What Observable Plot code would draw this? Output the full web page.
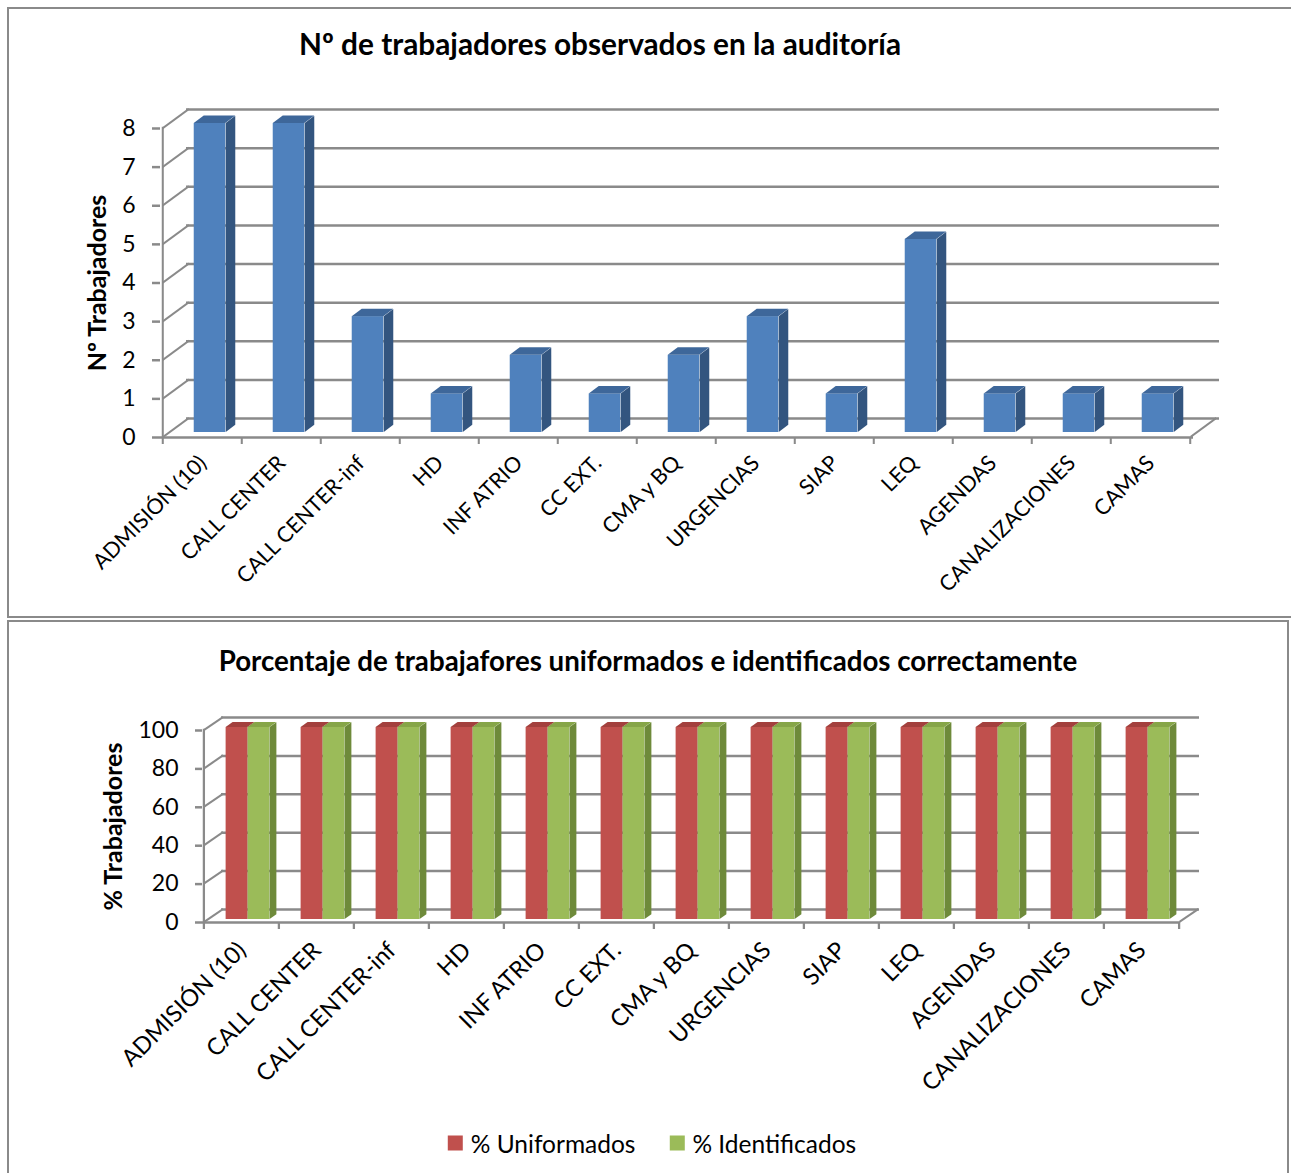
<!DOCTYPE html>
<html lang="es">
<head>
<meta charset="utf-8">
<script src="https://cdn.jsdelivr.net/npm/d3@7"></script>
<script src="https://cdn.jsdelivr.net/npm/@observablehq/plot@0.6"></script>
<style>
html,body{margin:0;padding:0;background:#fff;}
#page{position:relative;width:1291px;height:1173px;overflow:hidden;font-family:Lato,"Open Sans",sans-serif;color:#000;}
.box{position:absolute;border:2.5px solid #8a8a8a;box-sizing:border-box;}
.title{position:absolute;font-weight:700;white-space:nowrap;transform:translate(-50%,-50%);}
.chart{position:absolute;left:0;}
#legend{position:absolute;left:652px;top:1143px;transform:translate(-50%,-50%);white-space:nowrap;}
#legend *{font-family:Lato,"Open Sans",sans-serif !important;font-size:24.5px !important;color:#000 !important;}
#legend > div{margin:0 !important;}
#legend span{margin-right:34px !important;}
#legend span:last-child{margin-right:0 !important;}
#legend svg{margin-right:8px !important;}
</style>
</head>
<body>
<div id="page">
  <div class="box" style="left:7px;top:7px;width:1300px;height:611px;"></div>
  <div class="box" style="left:7px;top:620px;width:1282px;height:600px;"></div>
  <div class="title" id="t1" style="left:600px;top:43px;font-size:29.8px;"></div>
  <div class="title" id="t2" style="left:648px;top:660px;font-size:27.7px;"></div>
  <div class="chart" id="c1" style="top:0px;"></div>
  <div class="chart" id="c2" style="top:621px;"></div>
  <div id="legend"></div>
</div>
<script>
// ---------- data ----------
const categories = ["ADMISIÓN (10)", "CALL CENTER", "CALL CENTER-inf", "HD", "INF ATRIO", "CC EXT.", "CMA y BQ", "URGENCIAS", "SIAP", "LEQ", "AGENDAS", "CANALIZACIONES", "CAMAS"];
const trabajadores = [8, 8, 3, 1, 2, 1, 2, 3, 1, 5, 1, 1, 1];
const uniformados = [100, 100, 100, 100, 100, 100, 100, 100, 100, 100, 100, 100, 100];
const identificados = [100, 100, 100, 100, 100, 100, 100, 100, 100, 100, 100, 100, 100];
const ticksTrab = [0, 1, 2, 3, 4, 5, 6, 7, 8];
const ticksPct = [0, 20, 40, 60, 80, 100];
const seriesNames = ["% Uniformados", "% Identificados"];
const title1 = "Nº de trabajadores observados en la auditoría";
const title2 = "Porcentaje de trabajafores uniformados e identificados correctamente";
const yLabel1 = "Nº Trabajadores";
const yLabel2 = "% Trabajadores";

// ---------- styles ----------
const GRID = "#8a8a8a";
const BLUE = {front: "#4F81BD", side: "#33557F", top: "#3E679A"};
const RED = {front: "#C0504D", side: "#8C3A38", top: "#A3403D"};
const GREEN = {front: "#9BBB59", side: "#6E8A3A", top: "#86A548"};

document.getElementById("t1").textContent = title1;
document.getElementById("t2").textContent = title2;

const deg = (t) => Math.atan(t) * 180 / Math.PI;

function build(cfg) {
  const n = categories.length;
  const step = (cfg.W - cfg.ML - cfg.MR) / n;
  const [y0, yTop] = cfg.yDomain;
  const [WX, WY] = cfg.wall;
  const [PX, PY] = cfg.plane;
  const [DX, DY] = cfg.depth;
  const lw = 2.5, h = lw / 2;
  const groupW = cfg.barW * cfg.series.length;
  const marks = [
    // back wall gridlines
    Plot.ruleY(cfg.yTicks, {dx: WX, dy: WY, stroke: GRID, strokeWidth: lw}),
    // left wall diagonals (skewed afterwards)
    Plot.barY(cfg.yTicks, {x: () => categories[0], y1: d => d, y2: d => d, insetTop: -h, insetBottom: -h, insetLeft: 0, insetRight: step - WX, fill: GRID, ariaDescription: "wall-diag"}),
    // floor right edge
    Plot.barY([y0], {x: () => categories[n - 1], y1: d => d, y2: d => d, insetTop: -h, insetBottom: -h, insetLeft: step, insetRight: -WX, fill: GRID, ariaDescription: "wall-diag"}),
    // front vertical axis line
    Plot.barY([yTop], {x: () => categories[0], y1: () => y0, y2: d => d, insetTop: -h, insetBottom: -h, insetLeft: -h, insetRight: step - h, fill: GRID}),
    // category boundary ticks
    Plot.barY(categories, {x: d => d, y1: () => y0, y2: () => y0, insetTop: 0, insetBottom: -cfg.tick, insetLeft: -h, insetRight: step - h, fill: GRID}),
    Plot.barY([categories[n - 1]], {x: d => d, y1: () => y0, y2: () => y0, insetTop: 0, insetBottom: -cfg.tick, insetLeft: step - h, insetRight: -h, fill: GRID})
  ];
  cfg.series.forEach((s, k) => {
    const rows = categories.map((c, i) => ({c, v: s.values[i]}));
    const L = (step - groupW) / 2 + k * cfg.barW;
    const R = step - L - cfg.barW;
    const common = {x: "c", dx: PX, dy: PY};
    marks.push(
      Plot.barY(rows, {...common, y: "v", insetLeft: L, insetRight: R, fill: s.colors.front}),
      Plot.barY(rows, {...common, y: "v", insetLeft: L + cfg.barW, insetRight: R - DX, fill: s.colors.side, ariaDescription: "bar-side"}),
      Plot.barY(rows, {...common, y1: "v", y2: "v", insetTop: DY, insetBottom: 0, insetLeft: L, insetRight: R, fill: s.colors.top, ariaDescription: "bar-top"})
    );
  });
  marks.push(
    Plot.ruleY([y0], {stroke: GRID, strokeWidth: lw}),
    Plot.axisY(cfg.yTicks, {tickSize: cfg.yTickSize, tickPadding: cfg.yPad, stroke: GRID, strokeWidth: lw, fill: "#000", fontSize: cfg.yFont, label: cfg.yLabel, labelAnchor: "center", labelOffset: cfg.labelOffset, labelArrow: "none"}),
    Plot.axisX({tickSize: 0, tickRotate: -45, tickPadding: cfg.xPad, fontSize: cfg.xFont, fill: "#000", label: null})
  );
  const svg = Plot.plot({
    width: cfg.W, height: cfg.H,
    marginLeft: cfg.ML, marginRight: cfg.MR, marginTop: cfg.MT, marginBottom: cfg.MB,
    x: {type: "band", domain: categories, padding: 0},
    y: {domain: cfg.yDomain, nice: false},
    style: {background: "transparent", overflow: "visible", fontFamily: "Lato, 'Open Sans', sans-serif", color: "#000"},
    marks
  });
  const sel = d3.select(svg);
  sel.selectAll('g[aria-description="bar-side"] rect')
    .style("transform-box", "fill-box").style("transform-origin", "0 0")
    .style("transform", `skewY(${deg(DY / DX)}deg)`);
  sel.selectAll('g[aria-description="bar-top"] rect')
    .style("transform-box", "fill-box").style("transform-origin", "0 100%")
    .style("transform", `skewX(${deg(DX / DY)}deg)`);
  sel.selectAll('g[aria-description="wall-diag"] rect')
    .style("transform-box", "fill-box").style("transform-origin", "0 50%")
    .style("transform", `skewY(${deg(WY / WX)}deg)`);
  sel.selectAll("text").filter(function() { return this.textContent.includes(cfg.yLabel); })
    .text(cfg.yLabel).style("font-weight", "bold").style("font-size", cfg.labelFont + "px");
  return svg;
}

document.getElementById("c1").appendChild(build({
  W: 1291, H: 617, ML: 160, MR: 98, MT: 128, MB: 180,
  yDomain: [0, 8], yTicks: ticksTrab, yLabel: yLabel1, labelOffset: 72, labelFont: 25,
  wall: [26, -19], plane: [7, -5], depth: [10, -7.5], barW: 32, tick: 7,
  yTickSize: 8, yPad: 17, yFont: 23, xFont: 21.5, xPad: 22,
  series: [{values: trabajadores, colors: BLUE}]
}));

document.getElementById("c2").appendChild(build({
  W: 1291, H: 552, ML: 202, MR: 111, MT: 109, MB: 251,
  yDomain: [0, 100], yTicks: ticksPct, yLabel: yLabel2, labelOffset: 98, labelFont: 25,
  wall: [19, -13], plane: [6, -3], depth: [7, -5], barW: 22, tick: 7,
  yTickSize: 7, yPad: 17, yFont: 23, xFont: 23.5, xPad: 24,
  series: [{values: uniformados, colors: RED}, {values: identificados, colors: GREEN}]
}));

const leg = Plot.legend({legend: "swatches", color: {type: "ordinal", domain: seriesNames, range: [RED.front, GREEN.front]}, swatchSize: 15});
document.getElementById("legend").appendChild(leg);
</script>
</body>
</html>
